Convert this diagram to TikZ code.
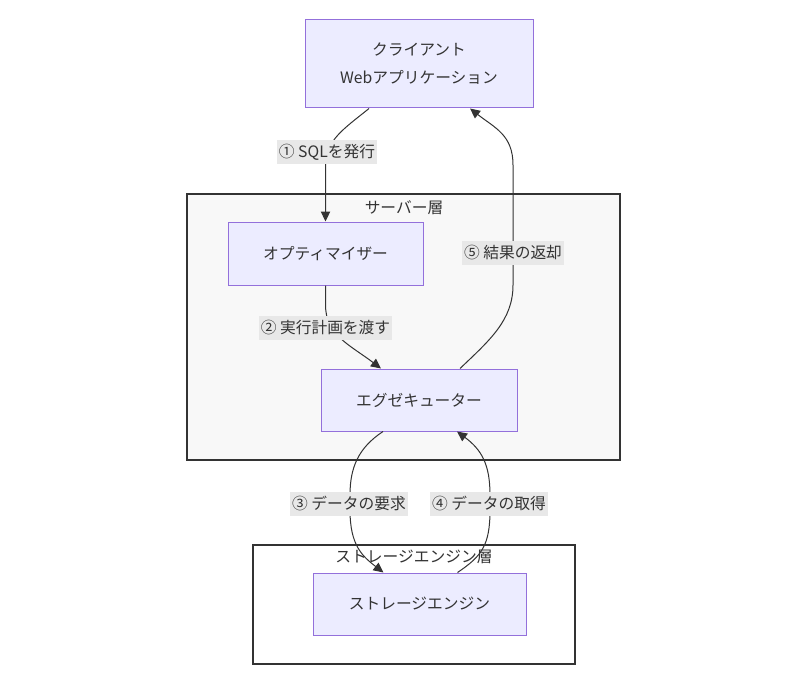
\documentclass[tikz,border=0pt]{standalone}
\usepackage{fontspec}
\setmainfont{Noto Sans CJK JP}
\usetikzlibrary{arrows.meta,calc}
\definecolor{nodefill}{HTML}{ECECFF}
\definecolor{nodeline}{HTML}{9370DB}
\definecolor{ink}{HTML}{333333}
\definecolor{clusterfill}{HTML}{F8F8F8}
\definecolor{lblfill}{HTML}{E8E8E8}
\tikzset{
  txt/.style={text=ink, font=\fontsize{11.8}{14}\selectfont},
  box/.style={txt, draw=nodeline, fill=nodefill, line width=0.75pt, inner sep=0pt, align=center},
  cluster/.style={draw=ink, line width=1.5pt, inner sep=0pt},
  conn/.style={draw=ink, line width=0.75pt, -{Triangle[length=7.5pt,width=7pt]}},
  lbl/.style={txt, fill=lblfill, inner xsep=1.5pt, inner ysep=0pt, minimum height=18pt},
}
\begin{document}
\begin{tikzpicture}[x=0.75pt,y=-0.75pt]
\useasboundingbox (0,0) rectangle (806,688);
% clusters
\node[cluster, fill=clusterfill, minimum width=324.75pt, minimum height=199.5pt] (server) at (403.5,327) {};
\node[cluster, fill=white, minimum width=241.5pt, minimum height=89.25pt] (storcl) at (414,604.5) {};
\node[txt] (serverlbl) at (404,208) {サーバー層};
\node[txt] (storlbl) at (414,557) {ストレージエンジン層};
% nodes
\node[box, minimum width=171pt, minimum height=66pt] (client) at (419,64) {クライアント\\[7pt]Webアプリケーション};
\node[box, minimum width=146.25pt, minimum height=47.25pt] (opt) at (325.5,253.5) {オプティマイザー};
\node[box, minimum width=147pt, minimum height=46.5pt] (exec) at (419,400) {エグゼキューター};
\node[box, minimum width=159.75pt, minimum height=46.5pt] (stor) at (419.5,604) {ストレージエンジン};
% connectors
\draw[conn] ($(client.south)+(-50,0)$) .. controls (345,128) and (325.5,140) .. (325.5,165) -- (opt.north);
\draw[conn] (opt.south) -- (325.5,305) .. controls (325.5,335) and (350,345) .. ($(exec.north)+(-38,0)$);
\draw[conn] ($(exec.south)+(-36,0)$) .. controls (358,448) and (350,468) .. (350,495) -- (350,510) .. controls (350,545) and (362,556) .. ($(stor.north)+(-36,0)$);
\draw[conn] ($(stor.north)+(38,0)$) .. controls (482,556) and (490,545) .. (490,510) -- (490,495) .. controls (490,465) and (482,450) .. ($(exec.south)+(38,0)$);
\draw[conn] ($(exec.north)+(41,0)$) .. controls (490,340) and (513,320) .. (513,285) -- (513,165) .. controls (513,135) and (495,128) .. ($(client.south)+(51,0)$);
% edge labels
\node[lbl] (l1) at (327,152) {① SQLを発行};
\node[lbl] (l2) at (325.5,327.5) {② 実行計画を渡す};
\node[lbl] (l3) at (349,503.5) {③ データの要求};
\node[lbl] (l4) at (489,503.5) {④ データの取得};
\node[lbl] (l5) at (513,253) {⑤ 結果の返却};
\end{tikzpicture}
\end{document}
